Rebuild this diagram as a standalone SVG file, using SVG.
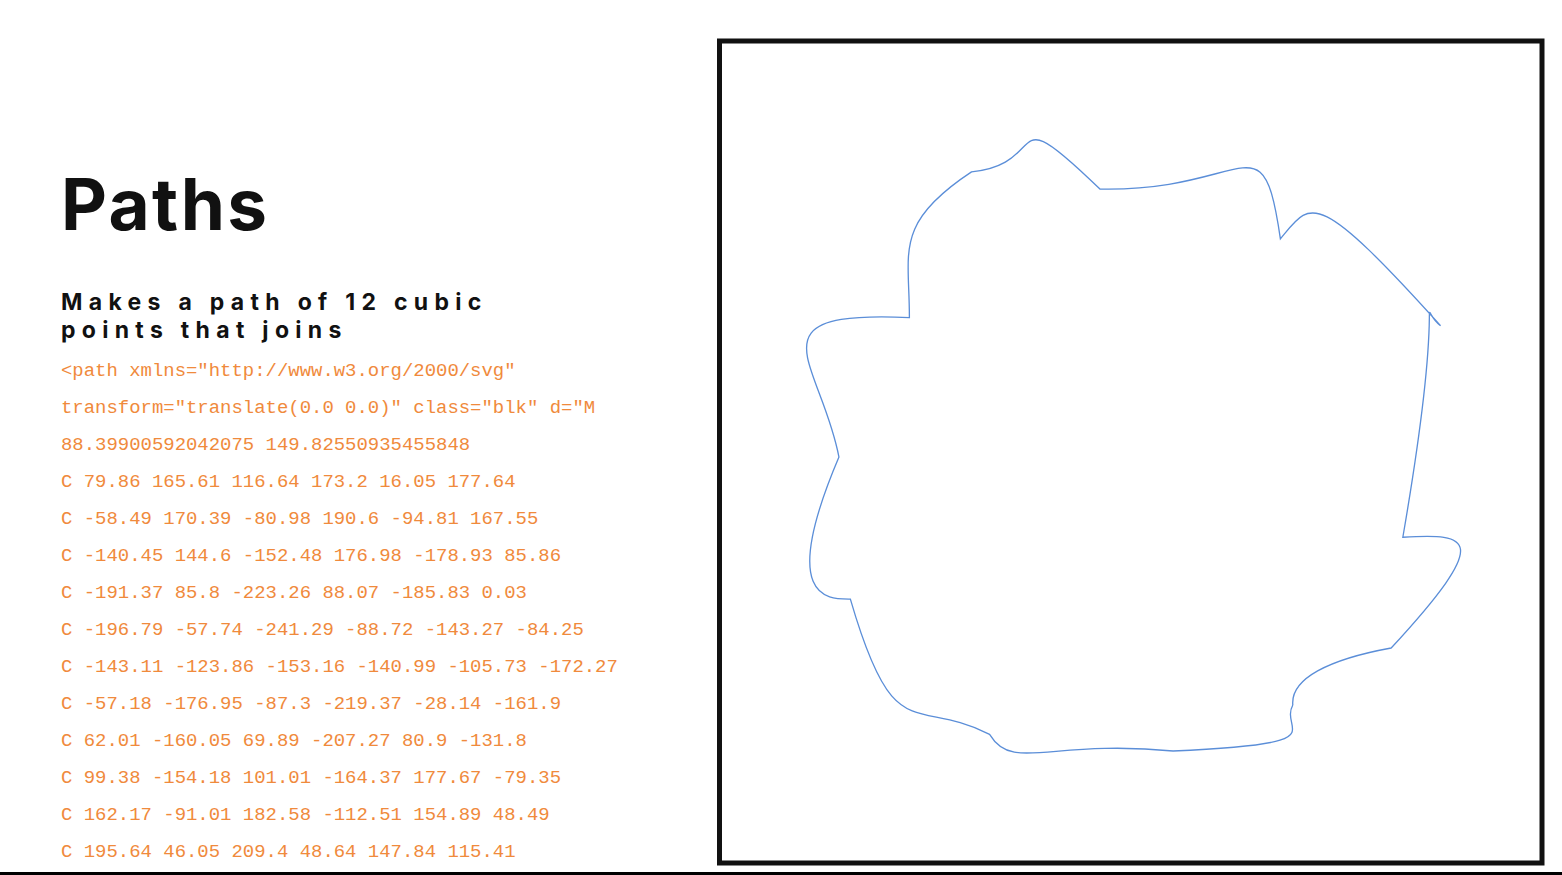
<svg xmlns="http://www.w3.org/2000/svg" width="1562" height="875" viewBox="0 0 1562 875">
  <style>
    .title { font-family: Inter, "Open Sans", sans-serif; font-weight: 700; font-size: 71px; letter-spacing: 2.4px; fill: #111; }
    .sub { font-family: Inter, "Open Sans", sans-serif; font-weight: 700; font-size: 23px; letter-spacing: 6.3px; fill: #111; }
    .code { font-family: "Liberation Mono", "DejaVu Sans Mono", monospace; font-size: 18.95px; fill: #f08a3c; }
    .blob { fill: none; stroke: #5b8ed8; stroke-width: 0.8; stroke-linejoin: miter; }
  </style>
  <rect x="0" y="0" width="1562" height="875" fill="#ffffff"/>
  <g id="heading">
    <text class="title" x="61" y="230">Paths</text>
    <text class="sub" x="61" y="310">Makes a path of 12 cubic</text>
    <text class="sub" x="61" y="338">points that joins</text>
  </g>
  <g id="code">
    <text class="code" x="61" y="376">&lt;path xmlns="http://www.w3.org/2000/svg"</text>
    <text class="code" x="61" y="413">transform="translate(0.0 0.0)" class="blk" d="M</text>
    <text class="code" x="61" y="450">88.39900592042075 149.82550935455848</text>
    <text class="code" x="61" y="487">C 79.86 165.61 116.64 173.2 16.05 177.64</text>
    <text class="code" x="61" y="524">C -58.49 170.39 -80.98 190.6 -94.81 167.55</text>
    <text class="code" x="61" y="561">C -140.45 144.6 -152.48 176.98 -178.93 85.86</text>
    <text class="code" x="61" y="598">C -191.37 85.8 -223.26 88.07 -185.83 0.03</text>
    <text class="code" x="61" y="635">C -196.79 -57.74 -241.29 -88.72 -143.27 -84.25</text>
    <text class="code" x="61" y="672">C -143.11 -123.86 -153.16 -140.99 -105.73 -172.27</text>
    <text class="code" x="61" y="709">C -57.18 -176.95 -87.3 -219.37 -28.14 -161.9</text>
    <text class="code" x="61" y="746">C 62.01 -160.05 69.89 -207.27 80.9 -131.8</text>
    <text class="code" x="61" y="783">C 99.38 -154.18 101.01 -164.37 177.67 -79.35</text>
    <text class="code" x="61" y="820">C 162.17 -91.01 182.58 -112.51 154.89 48.49</text>
    <text class="code" x="61" y="857">C 195.64 46.05 209.4 48.64 147.84 115.41</text>
  </g>
  <g id="canvas">
    <rect x="719.5" y="41" width="822.5" height="822" fill="none" stroke="#111" stroke-width="5"/>
  </g>
  <g id="shape" transform="translate(1146.5 457) scale(1.655)">
    <path class="blob" d="M 88.39900592042075 149.82550935455848 C 79.86 165.61 116.64 173.2 16.05 177.64 C -58.49 170.39 -80.98 190.6 -94.81 167.55 C -140.45 144.6 -152.48 176.98 -178.93 85.86 C -191.37 85.8 -223.26 88.07 -185.83 0.03 C -196.79 -57.74 -241.29 -88.72 -143.27 -84.25 C -143.11 -123.86 -153.16 -140.99 -105.73 -172.27 C -57.18 -176.95 -87.3 -219.37 -28.14 -161.9 C 62.01 -160.05 69.89 -207.27 80.9 -131.8 C 99.38 -154.18 101.01 -164.37 177.67 -79.35 C 162.17 -91.01 182.58 -112.51 154.89 48.49 C 195.64 46.05 209.4 48.64 147.84 115.41 C 110 122.3 87 134 88.39900592042075 149.82550935455848"/>
  </g>
  <rect x="0" y="872" width="1562" height="3" fill="#000"/>
</svg>
